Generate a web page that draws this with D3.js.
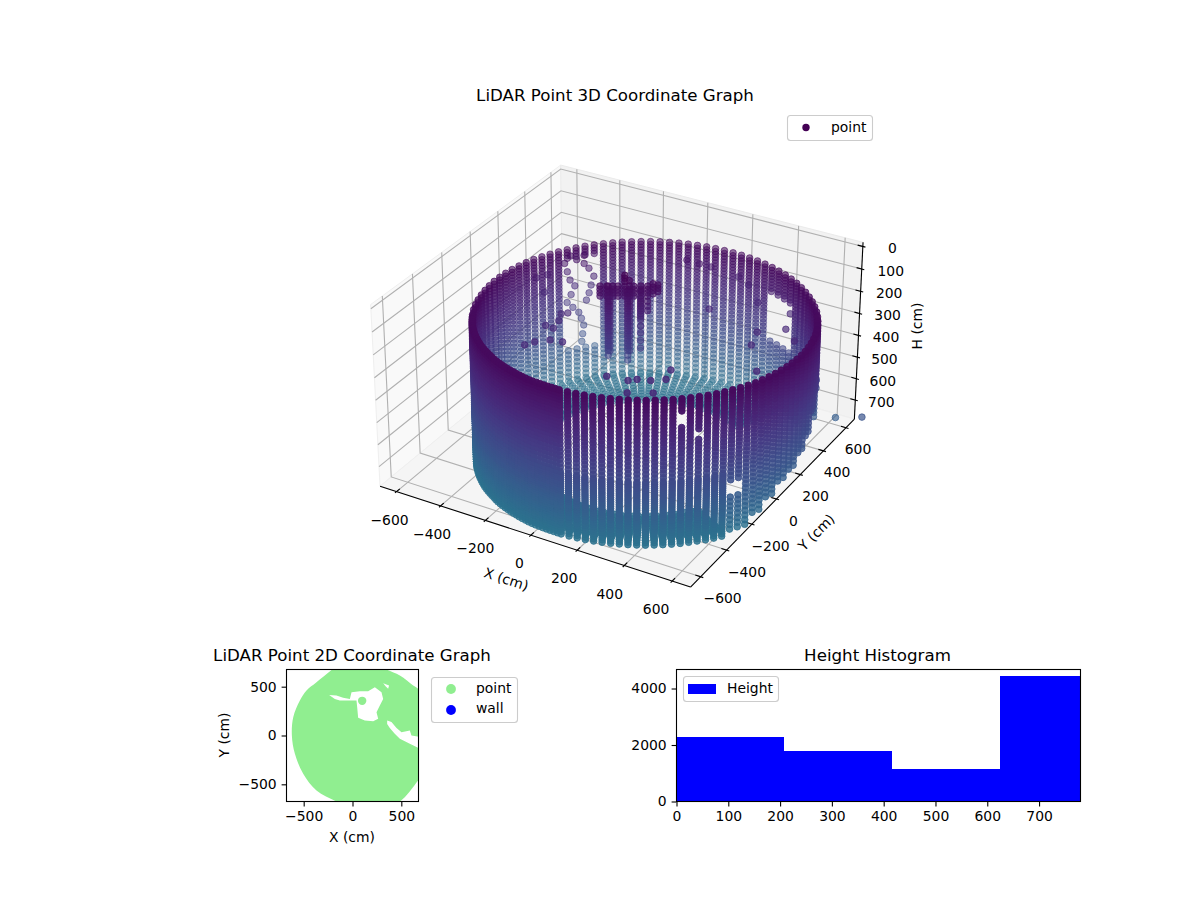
<!DOCTYPE html>
<html>
<head>
<meta charset="utf-8">
<script src="https://cdn.jsdelivr.net/npm/d3@7"></script>
<style>
  html, body { margin: 0; padding: 0; background: #fff; }
  text { font-family: "DejaVu Sans", sans-serif; font-size: 13.9px; fill: #000; }
  .title { font-size: 16.67px; }
</style>
</head>
<body>
<svg id="chart" width="1200" height="900"></svg>
<script>
//---- DATA
var xLim3d = [-676, 676], yLim3d = [-676, 676], zLim3d = [790, -18];
var xTicks3d = [-600, -400, -200, 0, 200, 400, 600];
var yTicks3d = [-600, -400, -200, 0, 200, 400, 600];
var zTicks3d = [0, 100, 200, 300, 400, 500, 600, 700];

var wallCentre = [100, 0];
// near side of the wall, seen from the front
var frontAngles = [-150, -147, -144, -141, -138, -135, -132, -129, -126, -123, -120, -117, -114, -111, -108, -105, -102, -99, -96, -93,
  -90, -87, -84, -81, -78, -75, -72, -69, -66, -63, -60, -57, -54, -51, -48, -45, -42, -39, -36, -33,
  -30, -27, -24, -21, -18, -15, -12, -9, -6, -3, 0, 3, 6, 9, 12, 15, 18, 21, 24, 27,
  -148.5, -145.5, -142.5, -139.5, -136.5, -133.5, -130.5, -127.5, -124.5, -121.5, -118.5, -115.5, -112.5, -109.5, -106.5, -103.5, -100.5, -97.5, -94.5, -91.5];
var frontRadii = [650, 650, 650, 649, 648, 647, 646, 645, 643, 641, 641, 639, 637, 635, 634, 632, 631, 628, 626, 624,
  624, 622, 620, 619, 618, 617, 616, 615, 615, 615, 615, 615, 615, 616, 617, 617, 618, 620, 622, 623,
  624, 626, 628, 630, 631, 632, 634, 635, 637, 639, 641, 643, 645, 646, 647, 648, 649, 650, 650, 650,
  650, 650, 650, 649, 648, 647, 646, 644, 642, 641, 640, 638, 636, 634, 633, 632, 630, 627, 625, 624];
// far side of the wall
var backAngles = [30, 33.5, 37, 40.5, 44, 47.5, 51, 54.5, 58, 61.5, 65, 68.5, 72, 75.5, 79, 82.5, 86, 89.5, 93, 96.5, 100, 103.5, 107, 110.5, 114, 117.5,
  121, 124.5, 128, 131.5, 135, 138.5, 142, 145.5, 149, 152.5, 156, 159.5, 163, 166.5, 170, 173.5, 177, -179.5, -176, -172.5, -169, -165.5, -162, -158.5, -155, -151.5];
var backRadii = [650, 650, 649, 648, 647, 646, 645, 644, 642, 640, 638, 636, 634, 632, 630, 628, 626, 624, 622, 621, 619, 618, 617, 616, 615, 615,
  615, 615, 616, 616, 617, 618, 620, 621, 623, 625, 627, 629, 632, 634, 636, 638, 640, 642, 644, 645, 646, 647, 648, 649, 650, 650];
var ringHeights = [147, 160, 173, 186, 199, 213, 227, 241, 255, 270, 285, 300, 315, 331, 347, 363, 379, 396, 413, 430, 447, 465, 483, 501, 519, 538, 557, 576, 595, 615, 635, 655, 675, 696, 717, 738, 759];
var frontExtraHeights = [510, 528, 547, 566, 585, 605, 625, 645, 665, 685, 706, 727, 748, 770, 781];

// angle from, angle to, height from, height to
var wallGaps = [
  [138, 151, 190, 610],
  [56, 70, 265, 470],
  [-48, -48, 212, 256],
  [-42, -42, 300, 330],
  [-30, -27, 543, 600],
  [21, 27, 430, 800],
  [15, 18, 480, 800],
  [9, 12, 540, 800],
  [3, 6, 590, 800],
  [-3, 0, 620, 800],
  [-9, -6, 650, 800],
  [-15, -12, 680, 800],
  [-21, -18, 720, 800],
  [30, 40.5, 600, 800],
  [44, 47.5, 680, 800]
];

var floorRadii = [610, 590, 570, 550, 530, 510, 490, 470, 450, 430];
var floorHeights = [762, 764, 766, 768, 770, 772, 773, 774, 775, 776];
var floorMissing = [-30, 60];

// single returns off the wall: x, y, h
var strayPoints = [
  [-28, 561, 196], [15, 586, 214], [55, 609, 228], [153, 415, 300], [151, 664, 273], [194, 667, 300], [293, 557, 300],
  [400, 346, 300], [427, 246, 300], [485, 421, 300], [555, 356, 300], [444, 539, 300], [537, 80, 300], [254, -73, 300],
  [272, -143, 300], [179, -197, 300], [154, -221, 300], [227, -179, 300], [280, -254, 300], [196, -301, 300],
  [-544, 263, 278], [-505, 286, 264], [-475, 211, 300], [-331, -15, 300], [-294, -19, 300], [-257, -104, 300],
  [-208, -93, 300], [-321, -185, 300], [-300, -146, 300], [-327, 94, 300], [-308, 113, 300], [-307, 43, 300],
  [69, -233, 300], [845, 372, 566], [715, 413, 630], [646, 373, 458], [646, 373, 494],
  [-446, 320, 212], [-437, 325, 250], [-428, 330, 288], [-412, 340, 315], [-425, 332, 355], [-439, 324, 392], [-419, 335, 414], [-399, 347, 437],
  [-390, 352, 465], [-382, 356, 496], [-386, 354, 537], [-389, 352, 573], [-379, 358, 212], [-363, 368, 234], [-346, 377, 270],
  [-356, 372, 311], [-363, 368, 347], [-372, 362, 380], [-379, 358, 175], [-425, 332, 178], [-405, 344, 195]
];

// hanging object: x, y, heights
var objectStrands = [
  [-146, 146, [150, 172, 195, 206, 218, 229, 240, 251, 262, 274, 285, 296, 308, 319, 330, 341, 352, 364, 375, 386, 398, 409, 420, 431, 442, 463]],
  [-140, 150, [172, 195, 218, 240, 262, 285, 308, 330, 352, 375, 398, 420, 442]],
  [-80, 184, [172, 184, 195, 206, 218, 229, 240, 251, 262, 274, 285, 296, 308, 319, 330, 341, 352, 364, 375, 386, 398, 409, 420, 431, 442, 463, 485]],
  [-74, 188, [172, 195, 218, 240, 262, 285, 308, 330, 352, 375, 398, 420, 442]],
  [-37, 209, [172, 195, 206, 218, 229, 240, 251, 262, 274, 285, 300, 330, 360, 395, 430]],
  [-173, 131, [150, 165, 180, 195]],
  [-150, 144, [150, 165, 180, 195]],
  [-130, 155, [150, 165, 180, 195]],
  [-113, 165, [150, 165, 180, 195]],
  [-90, 178, [102, 115, 130, 150, 165, 180, 195]],
  [-75, 187, [125, 150, 165, 180, 195]],
  [-60, 195, [150, 165, 180, 195]],
  [-37, 209, [150, 165, 180]],
  [-14, 222, [150, 165, 180, 195, 218, 240, 260]],
  [4, 233, [140, 155, 170, 185]],
  [20, 242, [145, 160, 175]]
];

// 2D view outline, x and y
var planOutline = [[-215, 672], [-100, 760], [100, 780], [348, 676], [485, 614], [621, 512], [672, 478], [800, 300], [830, 0], [780, -300],
  [672, -460], [485, -676], [300, -760], [50, -760], [-164, -676], [-369, -563], [-505, -392], [-590, -188], [-621, 0], [-607, 188],
  [-539, 358], [-471, 461], [-369, 546]];
var planHoles = [
  [[-239, 416], [-164, 410], [-96, 386], [-27, 375], [-10, 444], [75, 454], [160, 454], [229, 495], [297, 444], [314, 375], [280, 307],
    [246, 239], [263, 171], [212, 147], [126, 154], [58, 181], [48, 290], [41, 358], [-44, 358], [-130, 358], [-181, 375]],
  [[314, 536], [375, 512], [365, 478], [341, 502]],
  [[355, 154], [399, 137], [451, 78], [502, 34], [587, 51], [604, 0], [700, -17], [700, -140], [587, -85], [485, -34], [433, 17], [382, 78], [355, 119]]
];
var planPoint = [99, 355];
var planTicks = [-500, 0, 500];

var histEdges = [0, 208, 416, 624, 832];
var histCounts = [2300, 1805, 1168, 4460];
var histXTicks = [0, 100, 200, 300, 400, 500, 600, 700];
var histYTicks = [0, 2000, 4000];

//---- 3D PROJECTION
var svg = d3.select('#chart');
var boxAspect = [1.2776, 1.2776, 0.7474];
var dist = 10;
var elev = 30 * Math.PI / 180, azim = -60 * Math.PI / 180;
var camW = [Math.cos(elev) * Math.cos(azim), Math.cos(elev) * Math.sin(azim), Math.sin(elev)];
var camU = [-Math.sin(azim), Math.cos(azim), 0];
var camV = [camW[1] * camU[2] - camW[2] * camU[1], camW[2] * camU[0] - camW[0] * camU[2], camW[0] * camU[1] - camW[1] * camU[0]];

var wx = d3.scaleLinear().domain(xLim3d).range([-boxAspect[0] / 2, boxAspect[0] / 2]);
var wy = d3.scaleLinear().domain(yLim3d).range([-boxAspect[1] / 2, boxAspect[1] / 2]);
var wz = d3.scaleLinear().domain(zLim3d).range([-boxAspect[2] / 2, boxAspect[2] / 2]);
var screenX = d3.scaleLinear().domain([-0.095, 0.09]).range([359, 871]);
var screenY = d3.scaleLinear().domain([-0.095, 0.09]).range([627, 115]);

function dot(a, b) { return a[0] * b[0] + a[1] * b[1] + a[2] * b[2]; }

function project(x, y, z) {
  var q = [wx(x), wy(y), wz(z)];
  var d = dist - dot(camW, q);
  return { x: screenX(dot(camU, q) / d), y: screenY(dot(camV, q) / d), d: d };
}

function path3d(pts) {
  return d3.line().x(function(p) { return project(p[0], p[1], p[2]).x; })
    .y(function(p) { return project(p[0], p[1], p[2]).y; })(pts);
}

var x0 = xLim3d[0], x1 = xLim3d[1], y0 = yLim3d[0], y1 = yLim3d[1], zb = zLim3d[0], zt = zLim3d[1];
var g3d = svg.append('g').attr('class', 'axes3d');

//---PANES
var panes = [
  { fill: '#f9f9f9', pts: [[x0, y0, zb], [x0, y1, zb], [x0, y1, zt], [x0, y0, zt]] },
  { fill: '#f2f2f2', pts: [[x0, y1, zb], [x1, y1, zb], [x1, y1, zt], [x0, y1, zt]] },
  { fill: '#f5f5f5', pts: [[x0, y0, zb], [x1, y0, zb], [x1, y1, zb], [x0, y1, zb]] }
];
panes.forEach(function(p) {
  g3d.append('path').attr('d', path3d(p.pts) + 'Z')
    .attr('fill', p.fill).attr('stroke', p.fill === '#f2f2f2' ? '#ebebeb' : '#efefef').attr('stroke-width', 1);
});

//---GRID
function grid(pts) {
  g3d.append('path').attr('d', path3d(pts)).attr('fill', 'none').attr('stroke', '#b0b0b0').attr('stroke-width', 1.1);
}
xTicks3d.forEach(function(t) { grid([[t, y0, zb], [t, y1, zb], [t, y1, zt]]); });
yTicks3d.forEach(function(t) { grid([[x1, t, zb], [x0, t, zb], [x0, t, zt]]); });
zTicks3d.forEach(function(t) { grid([[x1, y1, t], [x0, y1, t], [x0, y0, t]]); });

//---AXIS LINES AND TICKS
function axisLine(pts, w) {
  g3d.append('path').attr('d', path3d(pts)).attr('fill', 'none').attr('stroke', '#000').attr('stroke-width', w);
}
axisLine([[x0, y0, zb], [x1, y0, zb]], 1.1);
axisLine([[x1, y0, zb], [x1, y1, zb]], 1.1);
axisLine([[x1, y1, zb], [x1, y1, zt]], 1.1);

// tick labels drift a little along the axis
var xLabelShift = d3.scaleLinear().domain([-600, 600]).range([-7, -16]);
var yLabelShift = d3.scaleLinear().domain([-600, 600]).range([22, 12]);
var zLabelShift = d3.scaleLinear().domain([0, 700]).range([29.5, 26]);
var tickIn = 22, tickOut = 11;

xTicks3d.forEach(function(t) {
  axisLine([[t, y0 + tickIn, zb], [t, y0 - tickOut, zb]], 1.1);
  var p = project(t, y0, zb);
  g3d.append('text').attr('x', p.x + xLabelShift(t)).attr('y', p.y + 29).attr('text-anchor', 'middle')
    .attr('dominant-baseline', 'middle').text(d3.format('d')(t));
});
yTicks3d.forEach(function(t) {
  axisLine([[x1 - tickIn, t, zb], [x1 + tickOut, t, zb]], 1.1);
  var p = project(x1, t, zb);
  g3d.append('text').attr('x', p.x + yLabelShift(t)).attr('y', p.y + 22.5).attr('text-anchor', 'middle')
    .attr('dominant-baseline', 'middle').text(d3.format('d')(t));
});
zTicks3d.forEach(function(t) {
  axisLine([[x1 - tickIn, y1, t], [x1 + tickOut, y1, t]], 1.1);
  var p = project(x1, y1, t);
  g3d.append('text').attr('x', p.x + zLabelShift(t)).attr('y', p.y + 3).attr('text-anchor', 'middle')
    .attr('dominant-baseline', 'middle').text(d3.format('d')(t));
});

//---POINTS
var cloud = [];
function inGap(a, h) {
  return wallGaps.some(function(g) { return a >= g[0] && a <= g[1] && h >= g[2] && h <= g[3]; });
}
function addColumn(a, r, heights) {
  var rad = a * Math.PI / 180;
  heights.forEach(function(h) {
    if (inGap(a, h)) return;
    cloud.push([wallCentre[0] + r * Math.cos(rad), wallCentre[1] + r * Math.sin(rad), h]);
  });
}
function addFloor(a) {
  if (a >= floorMissing[0] && a <= floorMissing[1]) return;
  var rad = a * Math.PI / 180;
  floorRadii.forEach(function(r, k) {
    cloud.push([wallCentre[0] + r * Math.cos(rad), wallCentre[1] + r * Math.sin(rad), floorHeights[k]]);
  });
}
frontAngles.forEach(function(a, i) {
  addColumn(a, frontRadii[i], ringHeights);
  if (a <= -33) addColumn(a, frontRadii[i], frontExtraHeights);
  addFloor(a);
});
backAngles.forEach(function(a, i) {
  addColumn(a, backRadii[i], ringHeights);
  addFloor(a);
});
strayPoints.forEach(function(p) { cloud.push(p); });
objectStrands.forEach(function(s) {
  s[2].forEach(function(h) { cloud.push([s[0], s[1], h]); });
});

var projected = cloud.map(function(p) {
  var s = project(p[0], p[1], p[2]);
  s.h = p[2];
  return s;
});
var depth = d3.scaleLinear().domain(d3.extent(projected, function(d) { return d.d; })).range([1, 0.4]);
var heightColor = d3.scaleLinear().domain([100, 1900]).range([0, 1]);
projected.sort(function(a, b) { return b.d - a.d; });

g3d.append('g').selectAll('circle').data(projected).enter().append('circle')
  .attr('cx', function(d) { return d.x; })
  .attr('cy', function(d) { return d.y; })
  .attr('r', 3.3)
  .attr('fill', function(d) { return d3.interpolateViridis(heightColor(d.h)); })
  .attr('stroke', function(d) { return d3.interpolateViridis(heightColor(d.h)); })
  .attr('fill-opacity', function(d) { return depth(d.d); })
  .attr('stroke-opacity', function(d) { return depth(d.d); })
  .attr('stroke-width', 1);

//---LABELS
svg.append('text').attr('class', 'title').attr('x', 615).attr('y', 101).attr('text-anchor', 'middle').text('LiDAR Point 3D Coordinate Graph');
svg.append('text').attr('transform', 'translate(506,580) rotate(18)').attr('text-anchor', 'middle').attr('dominant-baseline', 'middle').text('X (cm)');
svg.append('text').attr('transform', 'translate(817,533) rotate(-45)').attr('text-anchor', 'middle').attr('dominant-baseline', 'middle').text('Y (cm)');
svg.append('text').attr('transform', 'translate(918,326) rotate(-90)').attr('text-anchor', 'middle').attr('dominant-baseline', 'middle').text('H (cm)');

function legend(x, y, w, h) {
  var g = svg.append('g').attr('transform', 'translate(' + x + ',' + y + ')');
  g.append('rect').attr('x', 0.5).attr('y', 0.5).attr('width', w).attr('height', h).attr('rx', 3)
    .attr('fill', '#fff').attr('fill-opacity', 0.8).attr('stroke', '#ccc').attr('stroke-width', 1.1);
  return g;
}
function legendText(g, x, y, s) {
  g.append('text').attr('x', x).attr('y', y).attr('dominant-baseline', 'middle').text(s);
}
var leg3d = legend(787, 115, 85, 25);
leg3d.append('circle').attr('cx', 19).attr('cy', 12.5).attr('r', 3.7).attr('fill', '#440154');
legendText(leg3d, 44, 12.5, 'point');

//---2D VIEW
var planBox = { left: 286.5, right: 418.5, top: 669.5, bottom: 801.5 };
var planX = d3.scaleLinear().domain([-676, 676]).range([planBox.left, planBox.right]);
var planY = d3.scaleLinear().domain([-676, 676]).range([planBox.bottom, planBox.top]);
var defs = svg.append('defs');
defs.append('clipPath').attr('id', 'plan-clip').append('rect')
  .attr('x', planBox.left).attr('y', planBox.top).attr('width', planBox.right - planBox.left).attr('height', planBox.bottom - planBox.top);
var planLine = d3.line().x(function(p) { return planX(p[0]); }).y(function(p) { return planY(p[1]); });
var outlineLine = d3.line().x(function(p) { return planX(p[0]); }).y(function(p) { return planY(p[1]); }).curve(d3.curveCatmullRomClosed);
var gPlan = svg.append('g').attr('clip-path', 'url(#plan-clip)');
var planD = outlineLine(planOutline) + planHoles.map(function(h) { return planLine(h) + 'Z'; }).join('');
gPlan.append('path').attr('d', planD).attr('fill', '#90ee90').attr('fill-rule', 'evenodd');
gPlan.append('circle').attr('cx', planX(planPoint[0])).attr('cy', planY(planPoint[1])).attr('r', 4.2).attr('fill', '#90ee90');

function styleAxis(g) {
  g.select('.domain').remove();
  g.selectAll('line').attr('stroke', '#000').attr('stroke-width', 1.1);
  g.selectAll('text').style('font-family', '"DejaVu Sans", sans-serif').style('font-size', '13.9px');
}
function frame(b) {
  svg.append('rect').attr('x', b.left).attr('y', b.top).attr('width', b.right - b.left).attr('height', b.bottom - b.top)
    .attr('fill', 'none').attr('stroke', '#000').attr('stroke-width', 1.1);
}
svg.append('g').attr('transform', 'translate(0,' + planBox.bottom + ')')
  .call(d3.axisBottom(planX).tickValues(planTicks).tickSize(4.9).tickPadding(4.9).tickFormat(d3.format('d'))).call(styleAxis);
svg.append('g').attr('transform', 'translate(' + planBox.left + ',0)')
  .call(d3.axisLeft(planY).tickValues(planTicks).tickSize(4.9).tickPadding(4.9).tickFormat(d3.format('d'))).call(styleAxis);
frame(planBox);
svg.append('text').attr('class', 'title').attr('x', 352).attr('y', 661).attr('text-anchor', 'middle').text('LiDAR Point 2D Coordinate Graph');
svg.append('text').attr('x', 352).attr('y', 842).attr('text-anchor', 'middle').text('X (cm)');
svg.append('text').attr('transform', 'translate(229,735) rotate(-90)').attr('text-anchor', 'middle').text('Y (cm)');

var legPlan = legend(431, 677, 86, 45);
legPlan.append('circle').attr('cx', 20).attr('cy', 12).attr('r', 4.9).attr('fill', '#90ee90');
legPlan.append('circle').attr('cx', 20).attr('cy', 33).attr('r', 4.9).attr('fill', '#0000ff');
legendText(legPlan, 45, 12, 'point');
legendText(legPlan, 45, 32, 'wall');

//---HISTOGRAM
var histBox = { left: 676.5, right: 1080.5, top: 669.5, bottom: 801.5 };
var histX = d3.scaleLinear().domain([0, 780]).range([histBox.left, histBox.right]);
var histY = d3.scaleLinear().domain([0, 4673]).range([histBox.bottom, histBox.top]);
defs.append('clipPath').attr('id', 'hist-clip').append('rect')
  .attr('x', histBox.left).attr('y', histBox.top).attr('width', histBox.right - histBox.left).attr('height', histBox.bottom - histBox.top);
svg.append('g').attr('clip-path', 'url(#hist-clip)').selectAll('rect').data(histCounts).enter().append('rect')
  .attr('x', function(d, i) { return histX(histEdges[i]); })
  .attr('y', function(d) { return histY(d); })
  .attr('width', function(d, i) { return histX(histEdges[i + 1]) - histX(histEdges[i]); })
  .attr('height', function(d) { return histY(0) - histY(d); })
  .attr('fill', '#0000ff')
  .attr('shape-rendering', 'crispEdges');
svg.append('g').attr('transform', 'translate(0,' + histBox.bottom + ')')
  .call(d3.axisBottom(histX).tickValues(histXTicks).tickSize(4.9).tickPadding(4.9).tickFormat(d3.format('d'))).call(styleAxis);
svg.append('g').attr('transform', 'translate(' + histBox.left + ',0)')
  .call(d3.axisLeft(histY).tickValues(histYTicks).tickSize(4.9).tickPadding(4.9).tickFormat(d3.format('d'))).call(styleAxis);
frame(histBox);
svg.append('text').attr('class', 'title').attr('x', 877.5).attr('y', 661).attr('text-anchor', 'middle').text('Height Histogram');

var legHist = legend(683, 676, 95, 25);
legHist.append('rect').attr('x', 5).attr('y', 8).attr('width', 28).attr('height', 10).attr('fill', '#0000ff');
legendText(legHist, 44, 13, 'Height');
</script>
</body>
</html>
